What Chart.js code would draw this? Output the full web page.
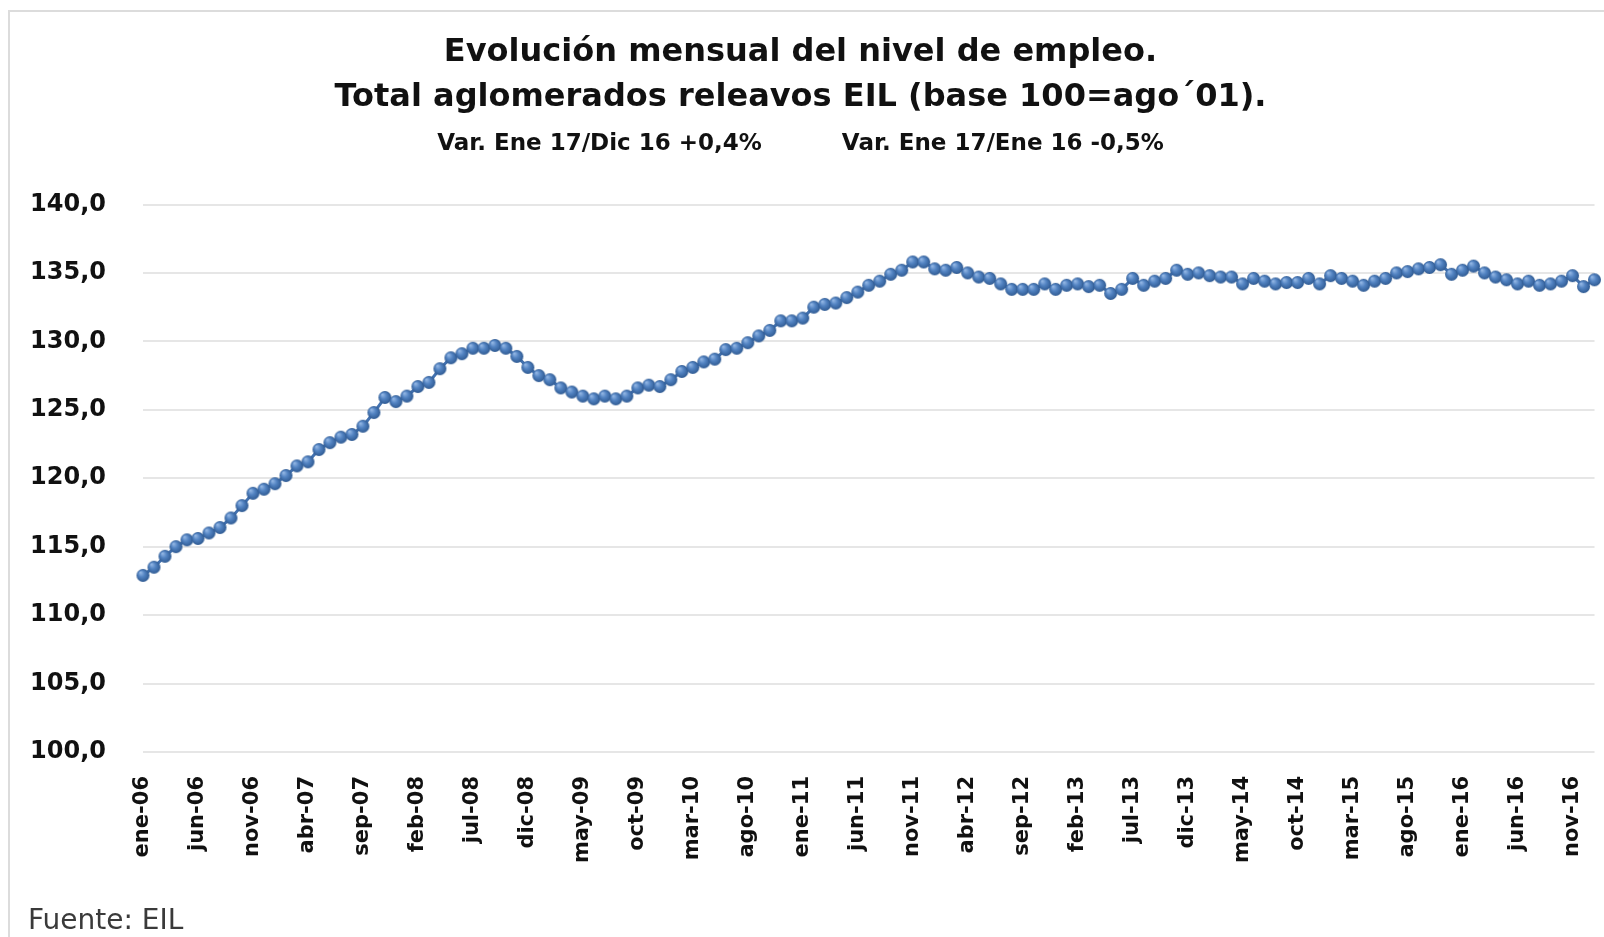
<!DOCTYPE html>
<html>
<head>
<meta charset="utf-8">
<script src="https://cdn.jsdelivr.net/npm/chart.js@4.4.1/dist/chart.umd.min.js"></script>
<style>
  html, body { margin: 0; padding: 0; background: #fff; overflow: hidden; }
  #marco { position: absolute; left: 8px; top: 10px; width: 1700px; height: 1000px; border: 2px solid #dcdcdc; }
  #grafico { position: absolute; left: 0; top: 0; }
  #fuente { position: absolute; left: 28px; top: 904px; font-family: "DejaVu Sans", sans-serif; font-size: 28px; line-height: 32px; color: #3a3a3a; }
</style>
</head>
<body>
<div id="marco"></div>
<canvas id="grafico" width="1604" height="937"></canvas>
<div id="fuente">Fuente: EIL</div>
<script>
const meses = ["ene", "feb", "mar", "abr", "may", "jun", "jul", "ago", "sep", "oct", "nov", "dic"];
const anios = ["06", "07", "08", "09", "10", "11", "12", "13", "14", "15", "16", "17"];

// indice base 100 = ago'01, un valor por mes
const empleo2006 = [112.9, 113.5, 114.3, 115.0, 115.5, 115.6, 116.0, 116.4, 117.1, 118.0, 118.9, 119.2];
const empleo2007 = [119.6, 120.2, 120.9, 121.2, 122.1, 122.6, 123.0, 123.2, 123.8, 124.8, 125.9, 125.6];
const empleo2008 = [126.0, 126.7, 127.0, 128.0, 128.8, 129.1, 129.5, 129.5, 129.7, 129.5, 128.9, 128.1];
const empleo2009 = [127.5, 127.2, 126.6, 126.3, 126.0, 125.8, 126.0, 125.8, 126.0, 126.6, 126.8, 126.7];
const empleo2010 = [127.2, 127.8, 128.1, 128.5, 128.7, 129.4, 129.5, 129.9, 130.4, 130.8, 131.5, 131.5];
const empleo2011 = [131.7, 132.5, 132.7, 132.8, 133.2, 133.6, 134.1, 134.4, 134.9, 135.2, 135.8, 135.8];
const empleo2012 = [135.3, 135.2, 135.4, 135.0, 134.7, 134.6, 134.2, 133.8, 133.8, 133.8, 134.2, 133.8];
const empleo2013 = [134.1, 134.2, 134.0, 134.1, 133.5, 133.8, 134.6, 134.1, 134.4, 134.6, 135.2, 134.9];
const empleo2014 = [135.0, 134.8, 134.7, 134.7, 134.2, 134.6, 134.4, 134.2, 134.3, 134.3, 134.6, 134.2];
const empleo2015 = [134.8, 134.6, 134.4, 134.1, 134.4, 134.6, 135.0, 135.1, 135.3, 135.4, 135.6, 134.9];
const empleo2016 = [135.2, 135.5, 135.0, 134.7, 134.5, 134.2, 134.4, 134.1, 134.2, 134.4, 134.8, 134.0];
const empleo2017 = [134.5];

const valores = [].concat(empleo2006, empleo2007, empleo2008, empleo2009, empleo2010, empleo2011,
    empleo2012, empleo2013, empleo2014, empleo2015, empleo2016, empleo2017);

let etiquetas = [];
anios.forEach(a => {
    meses.forEach(m => {
        if (etiquetas.length < valores.length) etiquetas.push(m + "-" + a);
    });
});

const titulo = ["Evolución mensual del nivel de empleo.", "Total aglomerados releavos EIL (base 100=ago´01)."];
const subtitulo = "Var. Ene 17/Dic 16 +0,4%          Var. Ene 17/Ene 16 -0,5%";

const fuente = "'DejaVu Sans', sans-serif";

// bolita con brillo, como los marcadores de excel
function hacerBolita(r) {
    const c = document.createElement("canvas");
    c.width = r * 2 + 2;
    c.height = r * 2 + 2;
    const g = c.getContext("2d");
    const grad = g.createRadialGradient(r * 0.75, r * 0.7, 0.5, r + 1, r + 1, r);
    grad.addColorStop(0, "#92b6e4");
    grad.addColorStop(0.45, "#5283c2");
    grad.addColorStop(1, "#2f5a92");
    g.fillStyle = grad;
    g.beginPath();
    g.arc(r + 1, r + 1, r, 0, Math.PI * 2);
    g.fill();
    return c;
}

new Chart(document.getElementById("grafico"), {
    type: "line",
    data: {
        labels: etiquetas,
        datasets: [{
            data: valores,
            borderColor: "#4372b0",
            borderWidth: 3,
            pointStyle: hacerBolita(6.5),
            pointRadius: 6.5
        }]
    },
    options: {
        responsive: false,
        devicePixelRatio: 1,
        animation: false,
        layout: { padding: { left: 0, right: 3, top: 0, bottom: 72 } },
        plugins: {
            legend: { display: false },
            tooltip: { enabled: false },
            title: {
                display: true,
                text: titulo,
                color: "#111",
                font: { family: fuente, size: 32, weight: "bold", lineHeight: 1.4 },
                padding: { top: 30, bottom: 3 }
            },
            subtitle: {
                display: true,
                text: subtitulo,
                color: "#111",
                font: { family: fuente, size: 23, weight: "bold", lineHeight: 1.3 },
                padding: { top: 6, bottom: 46 }
            }
        },
        scales: {
            x: {
                offset: false,
                grid: { display: false },
                border: { display: false },
                afterFit: s => {
                    s.height = 113;
                    s.paddingLeft = 0;
                    s.paddingRight = 0;
                },
                ticks: {
                    autoSkip: false,
                    minRotation: 90,
                    maxRotation: 90,
                    padding: 16,
                    color: "#111",
                    font: { family: fuente, size: 21, weight: "bold" },
                    callback: function (v, i) {
                        return i % 5 === 0 ? this.getLabelForValue(v) : "";
                    }
                }
            },
            y: {
                min: 100,
                max: 140,
                afterFit: s => { s.width = 143; },
                grid: { color: "#e6e6e6", lineWidth: 2, drawTicks: false },
                border: { display: false },
                ticks: {
                    stepSize: 5,
                    padding: 37,
                    color: "#111",
                    font: { family: fuente, size: 24, weight: "bold" },
                    callback: v => v.toFixed(1).replace(".", ",")
                }
            }
        }
    }
});
</script>
</body>
</html>
